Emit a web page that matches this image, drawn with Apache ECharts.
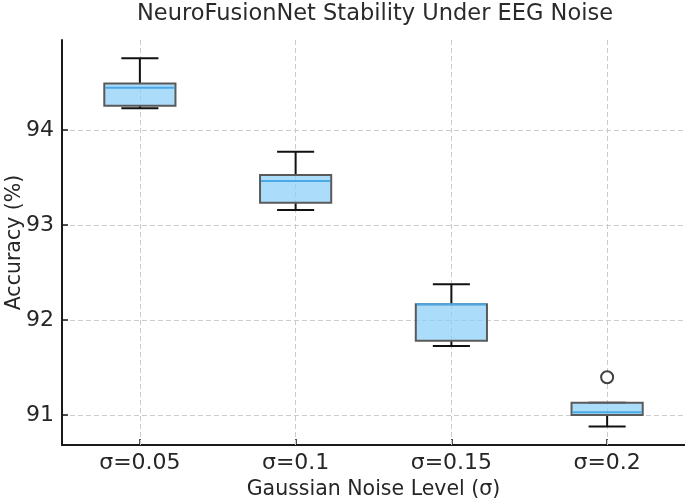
<!DOCTYPE html>
<html>
<head>
<meta charset="utf-8">
<script src="https://cdn.jsdelivr.net/npm/echarts@6/dist/echarts.min.js"></script>
<style>
html,body{margin:0;padding:0;background:#fff;}
#chart{width:685px;height:500px;}
</style>
</head>
<body>
<div id="chart"></div>
<script>
// ---- data ----
const categories = ['σ=0.05', 'σ=0.1', 'σ=0.15', 'σ=0.2'];
const whiskerLow  = [94.228, 93.158, 91.726, 90.880];
const quartile1   = [94.256, 93.235, 91.782, 91.000];
const medians     = [94.445, 93.463, 92.165, 91.028];
const quartile3   = [94.490, 93.526, 92.165, 91.130];
const whiskerHigh = [94.755, 93.772, 92.376, 91.130];
const outlierCats = ['σ=0.2'];
const outlierVals = [91.397];
const yTicks = [91, 92, 93, 94];
const yMin = 90.684, yMax = 94.947;

const boxData = categories.map((c, i) => [i, whiskerLow[i], quartile1[i], medians[i], quartile3[i], whiskerHigh[i]]);
const outlierData = outlierCats.map((c, i) => [c, outlierVals[i]]);

const FONT = 'DejaVu Sans';
const chart = echarts.init(document.getElementById('chart'), null, {renderer: 'canvas'});

function renderBox(params, api) {
  const x = api.value(0);
  const band = api.size([1, 0])[0];
  const bw = band * 0.457;
  const cw = band * 0.238;
  const pLo = api.coord([x, api.value(1)]);
  const pQ1 = api.coord([x, api.value(2)]);
  const pMed = api.coord([x, api.value(3)]);
  const pQ3 = api.coord([x, api.value(4)]);
  const pHi = api.coord([x, api.value(5)]);
  const cx = pQ1[0];
  const blk = {stroke: '#111', lineWidth: 2};
  return {
    type: 'group',
    children: [
      {type: 'line', shape: {x1: cx, y1: pLo[1], x2: cx, y2: pQ1[1]}, style: blk},
      {type: 'line', shape: {x1: cx, y1: pQ3[1], x2: cx, y2: pHi[1]}, style: blk},
      {type: 'line', shape: {x1: cx - cw / 2, y1: pLo[1], x2: cx + cw / 2, y2: pLo[1]}, style: blk},
      {type: 'line', shape: {x1: cx - cw / 2, y1: pHi[1], x2: cx + cw / 2, y2: pHi[1]}, style: blk},
      {type: 'rect', shape: {x: cx - bw / 2, y: pQ3[1], width: bw, height: pQ1[1] - pQ3[1]},
        style: {fill: 'rgba(135,206,250,0.7)', stroke: '#5a5a5a', lineWidth: 2}},
      {type: 'line', shape: {x1: cx - bw / 2 + 1, y1: pMed[1], x2: cx + bw / 2 - 1, y2: pMed[1]},
        style: {stroke: '#4aa8e6', lineWidth: 2}}
    ]
  };
}

const option = {
  animation: false,
  backgroundColor: '#fff',
  textStyle: {fontFamily: FONT},
  graphic: [{
    type: 'text', x: 375, y: 14,
    style: {text: 'NeuroFusionNet Stability Under EEG Noise', font: '22.5px "DejaVu Sans"', fill: '#2a2a2a', align: 'center', verticalAlign: 'middle'}
  }],
  grid: {left: 62, right: 0, top: 40, bottom: 55, containLabel: false, outerBoundsMode: 'none'},
  xAxis: {
    type: 'category',
    data: categories,
    boundaryGap: true,
    name: 'Gaussian Noise Level (σ)',
    nameLocation: 'middle',
    nameGap: 33,
    nameTextStyle: {fontFamily: FONT, fontSize: 20.5, color: '#262626'},
    axisLine: {lineStyle: {color: '#1a1a1a', width: 2}},
    axisTick: {show: true, inside: true, length: 6, alignWithLabel: true, lineStyle: {color: '#1a1a1a', width: 1.5}},
    axisLabel: {fontFamily: FONT, fontSize: 22, color: '#262626', margin: 7},
    splitLine: {show: false}
  },
  yAxis: {
    type: 'value',
    min: yMin, max: yMax,
    name: 'Accuracy (%)',
    nameLocation: 'middle',
    nameGap: 37,
    nameMoveOverlap: false,
    nameTextStyle: {fontFamily: FONT, fontSize: 20.5, color: '#262626'},
    axisLine: {show: true, lineStyle: {color: '#1a1a1a', width: 2}},
    axisTick: {show: true, inside: true, length: 6, customValues: yTicks, lineStyle: {color: '#1a1a1a', width: 1.5}},
    axisLabel: {fontFamily: FONT, fontSize: 22, color: '#262626', margin: 8, customValues: yTicks},
    splitLine: {show: true, lineStyle: {color: '#cccccc', type: [5, 3], width: 1}}
  },
  series: [
    {
      type: 'custom',
      renderItem: renderBox,
      encode: {x: 0, y: [1, 2, 3, 4, 5]},
      data: boxData,
      z: 3,
      markLine: {
        silent: true, symbol: 'none', label: {show: false}, z: 1,
        lineStyle: {color: '#cccccc', type: [5, 3], width: 1},
        data: categories.map(c => ({xAxis: c}))
      }
    },
    {
      type: 'scatter',
      data: outlierData,
      symbol: 'circle',
      symbolSize: 12,
      itemStyle: {color: '#fff', borderColor: '#111', borderWidth: 2},
      z: 4
    }
  ]
};
chart.setOption(option);
</script>
</body>
</html>
